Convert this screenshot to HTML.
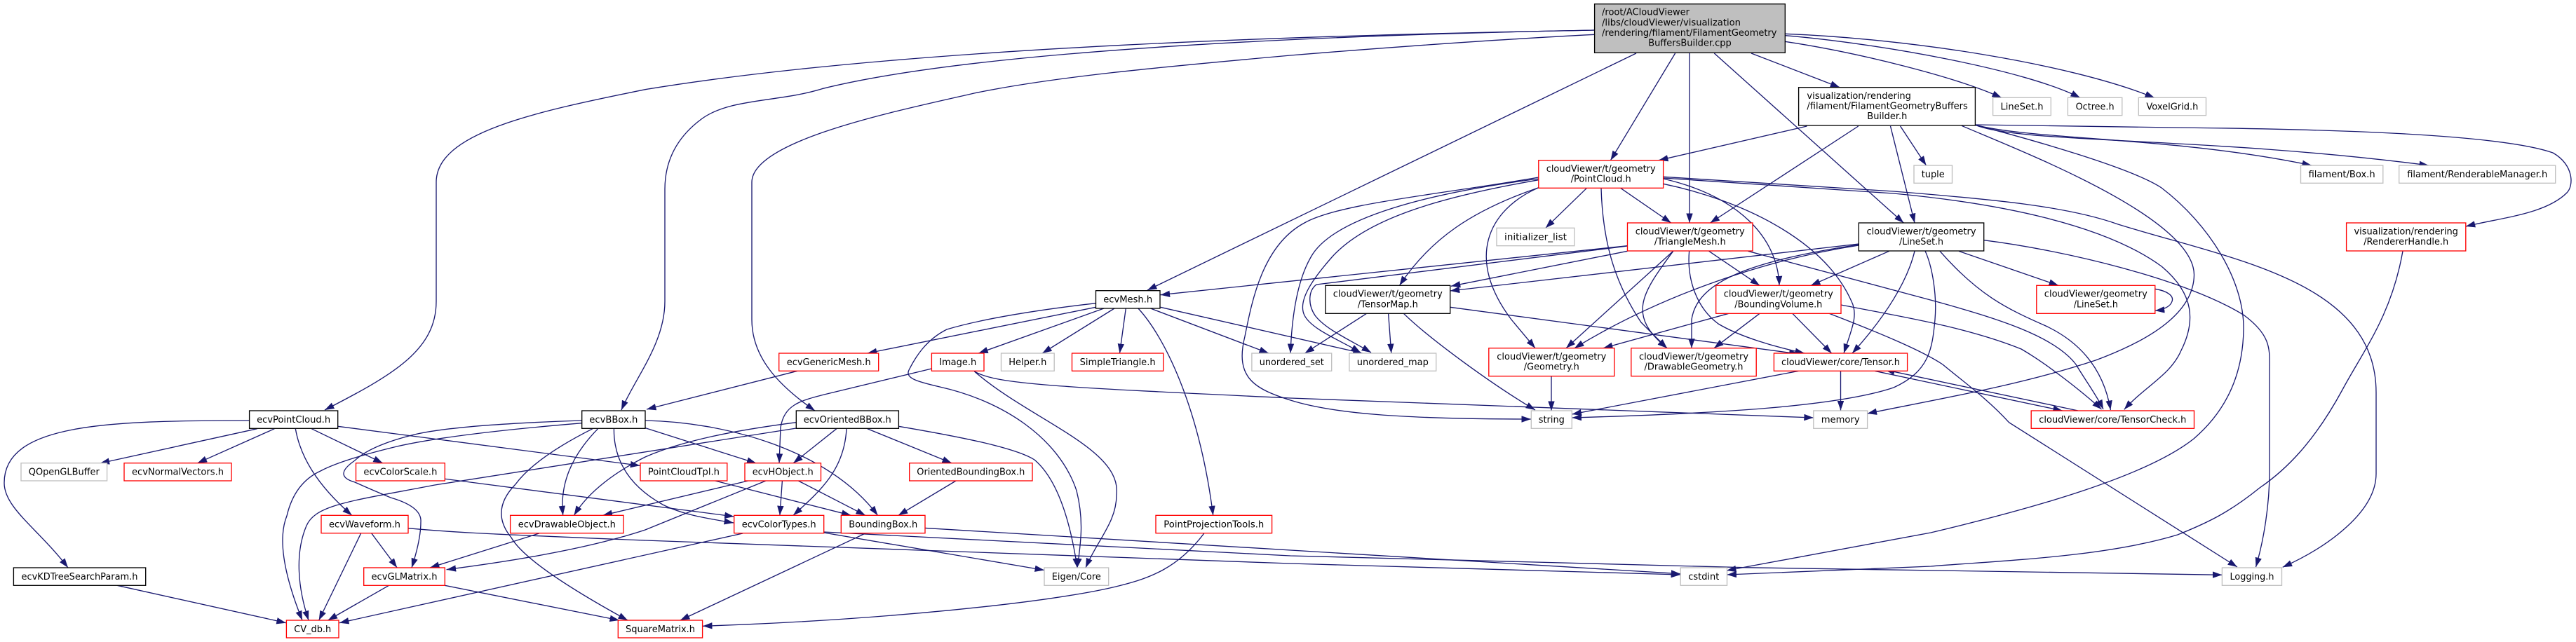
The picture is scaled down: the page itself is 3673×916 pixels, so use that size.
<!DOCTYPE html>
<html><head><meta charset="utf-8"><style>
html,body{margin:0;padding:0;background:#fff}
svg{display:block}
text{font-family:"DejaVu Sans","Liberation Sans",sans-serif;font-size:13.4px;fill:#000}
.e path{fill:none;stroke:#191970;stroke-width:1.33;marker-end:url(#a)}
.n rect{stroke-width:1.33;fill:#fff}
.k rect{stroke:#000}.r rect{stroke:#f00}.g rect{stroke:#bfbfbf}
.c{text-anchor:middle}
</style></head><body>
<svg xmlns="http://www.w3.org/2000/svg" width="3673" height="916" viewBox="0 0 3673 916">
<defs><marker id="a" markerUnits="userSpaceOnUse" markerWidth="14" markerHeight="10" refX="13.5" refY="4.7" orient="auto"><path d="M0 0L13.5 4.7L0 9.4z" fill="#191970"/></marker></defs>
<rect width="3673" height="916" fill="#fff"/>
<g class="e">
<!-- root -->
<path d="M2273.6 43C1900 50 1300 65 920 127.7C760 160 622 190 622 260L622 430C622 500 560 535 463 585"/>
<path d="M2273.6 43C1900 50 1400 70 1172 126.7C1110 146 1040 140 1000 170C965 196 948 230 948 270L948 430C948 490 905 540 886 585"/>
<path d="M2273.6 49.3C2100 58 1900 74 1840 79C1650 96 1500 110 1389 133C1280 158 1072 200 1072 260L1072 456C1072 510 1110 550 1162 586"/>
<path d="M2333 76L1636 414"/>
<path d="M2388.6 76L2296.5 228.7"/>
<path d="M2409 76L2409 318"/>
<path d="M2444.3 76L2714.3 318"/>
<path d="M2497 76L2623.3 124.7"/>
<path d="M2545.3 59.3C2650 75 2790 110 2854 139.5"/>
<path d="M2545.3 50.7C2680 62 2890 100 2966 139.5"/>
<path d="M2545.3 48.3C2720 55 2950 90 3072 139.5"/>
<!-- builder -->
<path d="M2576.4 180L2365 228.7"/>
<path d="M2649.7 180L2438.5 318"/>
<path d="M2695.5 180L2730 318"/>
<path d="M2709.6 180L2746.5 236"/>
<path d="M2816.4 178.3C2900 200 3100 195 3296 236"/>
<path d="M2816.4 178.3C2880 205 3150 195 3463 236"/>
<path d="M2816.4 178L3100 182C3300 184 3560 190 3640 218C3670 235 3670 265 3660 275C3630 305 3570 310 3515.8 323"/>
<path d="M2797 179.3C2880 215 3128 310 3128.5 392C3128 440 3080 480 2988 514C2880 550 2760 570 2662.6 590"/>
<path d="M2816.4 178.3C2900 200 3040 240 3082 268C3150 320 3200 400 3199 470C3198 540 3170 590 3128 626C3060 680 2900 725 2753 760L2462 814"/>
<!-- t/PointCloud -->
<path d="M2193.8 253C2050 278 1910 290 1860 318C1800 350 1785 430 1775 480C1760 540 1790 555 1840 571C1900 590 2000 598 2183 598"/>
<path d="M2193.8 255C2040 275 1900 310 1869 367C1850 400 1842 450 1840 504"/>
<path d="M2193.8 256.7C2060 280 1950 310 1899 367C1870 400 1850 430 1860 450C1870 470 1910 485 1940 503"/>
<path d="M2193.8 267.7C2100 300 2040 340 1995.5 407.3"/>
<path d="M2193.8 267.7C2120 300 2090 370 2155 456L2189 496.7"/>
<path d="M2262.5 268.3L2203.8 325.3"/>
<path d="M2310.6 268.3L2382.7 318"/>
<path d="M2283 268.3C2285 340 2300 400 2340 460C2350 470 2365 485 2377 496.7"/>
<path d="M2371.6 255C2480 280 2535 340 2537 407.3"/>
<path d="M2371.6 262.3C2480 285 2600 340 2640 430C2650 450 2640 470 2629 504"/>
<path d="M2371.6 252.3L2700 273C2850 285 2950 295 3020 320C3180 370 3388 400 3388 560L3388 676C3388 730 3320 780 3254.7 809.3"/>
<path d="M2371.6 254L2700 276C2850 290 3000 320 3082 380C3130 420 3130 460 3110 500C3095 535 3060 550 3028.8 584.3"/>
<!-- t/TriangleMesh -->
<path d="M2320.5 350.7L1654.6 420.7"/>
<path d="M2320.5 351L1877 406C1865 415 1865 435 1875 450C1890 470 1925 485 1955 503"/>
<path d="M2320.5 358.3L2068.8 408.3"/>
<path d="M2385.7 358.3L2233 496.7"/>
<path d="M2385.7 358.3C2340 420 2320 450 2377 496.7"/>
<path d="M2408.6 358.3C2405 400 2420 440 2450 462C2480 480 2530 495 2573 504"/>
<path d="M2436.7 358.3L2509 407.3"/>
<path d="M2492.5 358.3L2760 430C2850 455 2930 480 2960 520C2975 545 2990 565 2999 584"/>
<!-- t/LineSet -->
<path d="M2650.3 348L2067.7 415"/>
<path d="M2650.3 349C2500 372 2420 400 2412 456L2412 496.7"/>
<path d="M2650.3 350C2520 370 2370 420 2245 496.7"/>
<path d="M2693.7 358.3L2582 407.3"/>
<path d="M2730 358.3C2720 400 2690 450 2641 504"/>
<path d="M2793 358.3L2935 407.3"/>
<path d="M2766 358.3C2820 420 2860 440 2917 465C2970 490 3000 530 3009.4 585"/>
<path d="M2745 358C2755 380 2762 420 2759 456C2755 500 2750 530 2700 553C2620 580 2450 590 2241.5 596"/>
<path d="M2828.7 342.7C2950 358 3120 400 3200 450C3240 480 3236 500 3236 530L3236 673C3236 720 3228 770 3216.5 809"/>
<path d="M3072.8 412.3C3090 415 3100 422 3097 430C3095 437 3085 442 3072.8 443.3"/>
<!-- TensorMap -->
<path d="M1948.5 447.3L1860.5 504"/>
<path d="M1979.6 447.3L1983.8 504"/>
<path d="M2001.4 447.3C2040 485 2130 550 2189 585"/>
<path d="M2067.7 438.3L2564.6 505"/>
<!-- BoundingVolume -->
<path d="M2464.8 447.3L2286 496.7"/>
<path d="M2509 447.3L2444 496.7"/>
<path d="M2555.8 447.3L2611.6 504"/>
<path d="M2625 435C2700 450 2800 465 2882 498C2920 520 2970 560 2996.5 584"/>
<path d="M2607.5 447C2680 475 2740 500 2770 520C2800 545 2835 570 2864.5 602.7L3190 809"/>
<!-- Tensor etc -->
<path d="M2564.6 529.3L2241.5 591"/>
<path d="M2624.5 529.3L2624.5 585.5"/>
<path d="M2673 529.3L2940.8 586"/>
<path d="M2963 586L2688 527.7"/>
<path d="M2212 537L2212 586"/>
<path d="M3426 358.3C3410 450 3370 500 3340 556C3300 630 3260 670 3222 696C3180 730 3150 745 3105 763C3000 795 2850 800 2753 808L2462.5 820"/>
<!-- ecvMesh -->
<path d="M1562.5 438.3L1236.8 504"/>
<path d="M1562.5 432.7C1480 442 1400 455 1350 470C1320 485 1305 510 1296 528C1290 540 1310 545 1340 552C1430 572 1510 625 1535 700C1545 740 1542 770 1536 810"/>
<path d="M1574 440L1395.3 504"/>
<path d="M1589 440L1486.2 504"/>
<path d="M1605.3 440L1596.5 504"/>
<path d="M1622.9 440C1660 480 1710 580 1729.7 735.3"/>
<path d="M1640.5 440L1809 504"/>
<path d="M1654.6 438.3L1942.7 504"/>
<!-- Image -->
<path d="M1328.4 526L1175 563C1140 572 1118 578 1113 610L1111 660.7"/>
<path d="M1389.4 530C1420 548 1500 552 1840 568L2585.8 596"/>
<path d="M1389.4 530C1470 600 1600 640 1592 706C1592 745 1565 770 1548 810"/>
<path d="M1137 529.3L922 584"/>
<!-- ecvOrientedBBox -->
<path d="M1135.3 602.7C1040 615 970 630 920 652C880 672 840 700 818.5 735.3"/>
<path d="M1135.3 611L620 692C500 715 450 720 437 750C420 790 425 840 440 885"/>
<path d="M1192.8 611.7L1131.2 660.7"/>
<path d="M1207 611.7C1204 670 1170 700 1131 735.3"/>
<path d="M1236.8 611.7L1357 660.7"/>
<path d="M1281.4 608.3C1380 625 1450 640 1475 656C1515 690 1530 770 1536 810"/>
<!-- ecvBBox -->
<path d="M829.7 603.7Q645 619 566 637Q487 656 457 672Q420 689 409 736Q390 783 431 885"/>
<path d="M829.7 600Q645 606 587 621Q528 636 506 657Q474 679 506 688Q528 698 557 710Q602 723 600 745Q600 770 587 810"/>
<path d="M845 611.7Q763 653 735 691Q698 729 729 767Q751 806 895 885"/>
<path d="M852.6 611.7C815 650 798 690 802.7 735.3"/>
<path d="M875.4 611.7C875 660 900 695 945 720C975 735 1010 740 1046 746"/>
<path d="M915 609L1078.4 661"/>
<path d="M920 600C1030 602 1180 640 1251.5 735.3"/>
<!-- ecvPointCloud -->
<path d="M355.6 600C150 600 6 605 6 689C6 725 55 755 97 810"/>
<path d="M366.7 611.7L142.6 661"/>
<path d="M391.4 611.7L281.6 660.7"/>
<path d="M444.2 611.7L545.7 660.7"/>
<path d="M421.3 611.7C428 650 450 690 501.7 735.3"/>
<path d="M481.7 608.3L912.4 664.3"/>
<path d="M634.3 683.3L1046.7 737"/>
<!-- lower -->
<path d="M529.8 761L566.2 810"/>
<path d="M514.6 761L454.7 885"/>
<path d="M582 753.7C650 760 700 762 920 771L1840 804L2396.2 820"/>
<path d="M768.6 761L613 810"/>
<path d="M554.5 835.3L467.6 885"/>
<path d="M634.3 835.3L883 885"/>
<path d="M167.2 835.3L407.8 888.7"/>
<path d="M1066.7 686L859.6 735.3"/>
<path d="M1092 686L920 756Q821 789 636.6 812.7"/>
<path d="M1115.4 686L1111.9 735.3"/>
<path d="M1138.3 686L1233.9 735.3"/>
<path d="M1019.7 686L1213.4 735.3"/>
<path d="M1363 686L1280.9 735.3"/>
<path d="M1059 761L484 888.7"/>
<path d="M1174.7 760L1489 813.5"/>
<path d="M1174.7 759L1840 793L2485 809.7L3168.4 820.3"/>
<path d="M1233.9 761L969.9 885"/>
<path d="M1319 753.4L2396.2 818.7"/>
<path d="M1716.8 761C1680 810 1640 825 1595 836C1500 860 1250 885 1002 893.3"/>
</g>

<!-- nodes -->
<g class="n">
<g class="k"><rect x="2273.6" y="5.7" width="271.7" height="69.6" style="fill:#bfbfbf"/>
<text x="2284" y="21.7" textLength="125" lengthAdjust="spacingAndGlyphs">/root/ACloudViewer</text>
<text x="2284" y="36.7" textLength="198" lengthAdjust="spacingAndGlyphs">/libs/cloudViewer/visualization</text>
<text x="2284" y="51" textLength="249.4" lengthAdjust="spacingAndGlyphs">/rendering/filament/FilamentGeometry</text>
<text x="2409.5" y="65.7" class="c" textLength="118.5" lengthAdjust="spacingAndGlyphs">BuffersBuilder.cpp</text></g>

<g class="k"><rect x="2564.6" y="124.7" width="251.8" height="54.3"/>
<text x="2576.4" y="141" textLength="148.5" lengthAdjust="spacingAndGlyphs">visualization/rendering</text>
<text x="2576.4" y="155.3" textLength="229.4" lengthAdjust="spacingAndGlyphs">/filament/FilamentGeometryBuffers</text>
<text x="2690.8" y="170" class="c" textLength="57" lengthAdjust="spacingAndGlyphs">Builder.h</text></g>

<g class="r"><rect x="2193.8" y="228.7" width="177.8" height="39.6"/>
<text x="2282.7" y="245" class="c" textLength="156" lengthAdjust="spacingAndGlyphs">cloudViewer/t/geometry</text>
<text x="2282.7" y="259.5" class="c" textLength="86" lengthAdjust="spacingAndGlyphs">/PointCloud.h</text></g>

<g class="r"><rect x="2320.5" y="318" width="178.5" height="40"/>
<text x="2409.7" y="334.3" class="c" textLength="156" lengthAdjust="spacingAndGlyphs">cloudViewer/t/geometry</text>
<text x="2409.7" y="349" class="c" textLength="102" lengthAdjust="spacingAndGlyphs">/TriangleMesh.h</text></g>

<g class="k"><rect x="2650.3" y="318" width="178.4" height="40"/>
<text x="2739.5" y="334.3" class="c" textLength="156" lengthAdjust="spacingAndGlyphs">cloudViewer/t/geometry</text>
<text x="2739.5" y="349" class="c" textLength="63" lengthAdjust="spacingAndGlyphs">/LineSet.h</text></g>

<g class="k"><rect x="1889.9" y="407.3" width="177.8" height="40"/>
<text x="1978.8" y="423.6" class="c" textLength="156" lengthAdjust="spacingAndGlyphs">cloudViewer/t/geometry</text>
<text x="1978.8" y="438.3" class="c" textLength="86" lengthAdjust="spacingAndGlyphs">/TensorMap.h</text></g>

<g class="r"><rect x="2446.7" y="407.3" width="178.3" height="40"/>
<text x="2535.8" y="423.6" class="c" textLength="156" lengthAdjust="spacingAndGlyphs">cloudViewer/t/geometry</text>
<text x="2535.8" y="438.3" class="c" textLength="125" lengthAdjust="spacingAndGlyphs">/BoundingVolume.h</text></g>

<g class="r"><rect x="2122.8" y="496.7" width="179" height="40"/>
<text x="2212.3" y="513" class="c" textLength="156" lengthAdjust="spacingAndGlyphs">cloudViewer/t/geometry</text>
<text x="2212.3" y="527.5" class="c" textLength="79" lengthAdjust="spacingAndGlyphs">/Geometry.h</text></g>

<g class="r"><rect x="2325.8" y="496.7" width="178.4" height="40"/>
<text x="2415" y="513" class="c" textLength="156" lengthAdjust="spacingAndGlyphs">cloudViewer/t/geometry</text>
<text x="2415" y="527.5" class="c" textLength="141" lengthAdjust="spacingAndGlyphs">/DrawableGeometry.h</text></g>

<g class="r"><rect x="3345.6" y="318" width="170.2" height="40"/>
<text x="3430.7" y="334.3" class="c" textLength="148.5" lengthAdjust="spacingAndGlyphs">visualization/rendering</text>
<text x="3430.7" y="349" class="c" textLength="121" lengthAdjust="spacingAndGlyphs">/RendererHandle.h</text></g>

<g class="r"><rect x="2903.8" y="407.3" width="169" height="40"/>
<text x="2988.3" y="423.6" class="c" textLength="147" lengthAdjust="spacingAndGlyphs">cloudViewer/geometry</text>
<text x="2988.3" y="438.3" class="c" textLength="63" lengthAdjust="spacingAndGlyphs">/LineSet.h</text></g>

<g class="g">
<rect x="2134" y="325.3" width="110.9" height="25.4"/><text x="2189.5" y="342.3" class="c" textLength="89" lengthAdjust="spacingAndGlyphs">initializer_list</text>
<rect x="2729" y="236" width="54.5" height="25.3"/><text x="2756.2" y="253" class="c" textLength="33" lengthAdjust="spacingAndGlyphs">tuple</text>
<rect x="2841.6" y="139.3" width="82.7" height="25.4"/><text x="2883" y="156.3" class="c" textLength="61" lengthAdjust="spacingAndGlyphs">LineSet.h</text>
<rect x="2948.4" y="139.3" width="77.4" height="25.4"/><text x="2987.1" y="156.3" class="c" textLength="55" lengthAdjust="spacingAndGlyphs">Octree.h</text>
<rect x="3049.3" y="139.3" width="96.2" height="25.4"/><text x="3097.4" y="156.3" class="c" textLength="74" lengthAdjust="spacingAndGlyphs">VoxelGrid.h</text>
<rect x="3280.5" y="236" width="117.3" height="25.3"/><text x="3339.1" y="253" class="c" textLength="95" lengthAdjust="spacingAndGlyphs">filament/Box.h</text>
<rect x="3420.7" y="236" width="223" height="25.3"/><text x="3532.2" y="253" class="c" textLength="200" lengthAdjust="spacingAndGlyphs">filament/RenderableManager.h</text>
<rect x="1784.9" y="504" width="113.8" height="25.3"/><text x="1841.8" y="521" class="c" textLength="92" lengthAdjust="spacingAndGlyphs">unordered_set</text>
<rect x="1923.9" y="504" width="123.8" height="25.3"/><text x="1985.8" y="521" class="c" textLength="102" lengthAdjust="spacingAndGlyphs">unordered_map</text>
<rect x="1427.5" y="504" width="75.7" height="25.3"/><text x="1465.3" y="521" class="c" textLength="54" lengthAdjust="spacingAndGlyphs">Helper.h</text>
<rect x="2183.3" y="586" width="58" height="25.3"/><text x="2212.3" y="603" class="c" textLength="37" lengthAdjust="spacingAndGlyphs">string</text>
<rect x="2585.8" y="586" width="76.8" height="25.3"/><text x="2624.2" y="603" class="c" textLength="55" lengthAdjust="spacingAndGlyphs">memory</text>
<rect x="30" y="660.7" width="122.6" height="25.3"/><text x="91.3" y="677.7" class="c" textLength="101" lengthAdjust="spacingAndGlyphs">QOpenGLBuffer</text>
<rect x="1489" y="810" width="91.7" height="25.3"/><text x="1534.8" y="827" class="c" textLength="70" lengthAdjust="spacingAndGlyphs">Eigen/Core</text>
<rect x="2396.2" y="810" width="66.3" height="25.3"/><text x="2429.3" y="827" class="c" textLength="44" lengthAdjust="spacingAndGlyphs">cstdint</text>
<rect x="3168.4" y="810" width="85.1" height="25.3"/><text x="3211" y="827" class="c" textLength="63" lengthAdjust="spacingAndGlyphs">Logging.h</text>
</g>

<g class="k">
<rect x="1562.5" y="414.7" width="91.5" height="25.3"/><text x="1608.2" y="431.7" class="c" textLength="70" lengthAdjust="spacingAndGlyphs">ecvMesh.h</text>
<rect x="355.6" y="586" width="126.1" height="25.3"/><text x="418.6" y="603" class="c" textLength="105" lengthAdjust="spacingAndGlyphs">ecvPointCloud.h</text>
<rect x="829.7" y="586" width="90.3" height="25.3"/><text x="874.8" y="603" class="c" textLength="69" lengthAdjust="spacingAndGlyphs">ecvBBox.h</text>
<rect x="1135.3" y="586" width="146.1" height="25.3"/><text x="1208.3" y="603" class="c" textLength="125" lengthAdjust="spacingAndGlyphs">ecvOrientedBBox.h</text>
<rect x="19.4" y="810" width="188.3" height="25.3"/><text x="113.5" y="827" class="c" textLength="166" lengthAdjust="spacingAndGlyphs">ecvKDTreeSearchParam.h</text>
</g>

<g class="r">
<rect x="1110.7" y="504" width="142" height="25.3"/><text x="1181.7" y="521" class="c" textLength="120" lengthAdjust="spacingAndGlyphs">ecvGenericMesh.h</text>
<rect x="1328.4" y="504" width="74.6" height="25.3"/><text x="1365.7" y="521" class="c" textLength="53" lengthAdjust="spacingAndGlyphs">Image.h</text>
<rect x="1528.5" y="504" width="130.2" height="25.3"/><text x="1593.6" y="521" class="c" textLength="108" lengthAdjust="spacingAndGlyphs">SimpleTriangle.h</text>
<rect x="2529.4" y="504" width="190.2" height="25.3"/><text x="2624.5" y="521" class="c" textLength="169" lengthAdjust="spacingAndGlyphs">cloudViewer/core/Tensor.h</text>
<rect x="2896.2" y="586" width="232.3" height="25.3"/><text x="3012.3" y="603" class="c" textLength="210" lengthAdjust="spacingAndGlyphs">cloudViewer/core/TensorCheck.h</text>
<rect x="177" y="660.7" width="153" height="25.3"/><text x="253.5" y="677.7" class="c" textLength="131" lengthAdjust="spacingAndGlyphs">ecvNormalVectors.h</text>
<rect x="507.5" y="660.7" width="126.8" height="25.3"/><text x="570.9" y="677.7" class="c" textLength="105" lengthAdjust="spacingAndGlyphs">ecvColorScale.h</text>
<rect x="913" y="660.7" width="123.8" height="25.3"/><text x="974.9" y="677.7" class="c" textLength="102" lengthAdjust="spacingAndGlyphs">PointCloudTpl.h</text>
<rect x="1062" y="660.7" width="108.5" height="25.3"/><text x="1116.2" y="677.7" class="c" textLength="87" lengthAdjust="spacingAndGlyphs">ecvHObject.h</text>
<rect x="1296.7" y="660.7" width="175.3" height="25.3"/><text x="1384.3" y="677.7" class="c" textLength="154" lengthAdjust="spacingAndGlyphs">OrientedBoundingBox.h</text>
<rect x="458" y="735.3" width="124" height="25.4"/><text x="520" y="752.3" class="c" textLength="102" lengthAdjust="spacingAndGlyphs">ecvWaveform.h</text>
<rect x="727.6" y="735.3" width="161.4" height="25.4"/><text x="808.3" y="752.3" class="c" textLength="139" lengthAdjust="spacingAndGlyphs">ecvDrawableObject.h</text>
<rect x="1046.7" y="735.3" width="128" height="25.4"/><text x="1110.7" y="752.3" class="c" textLength="106" lengthAdjust="spacingAndGlyphs">ecvColorTypes.h</text>
<rect x="1199.3" y="735.3" width="119.7" height="25.4"/><text x="1259.2" y="752.3" class="c" textLength="98" lengthAdjust="spacingAndGlyphs">BoundingBox.h</text>
<rect x="1648" y="735.3" width="165.6" height="25.4"/><text x="1730.8" y="752.3" class="c" textLength="143" lengthAdjust="spacingAndGlyphs">PointProjectionTools.h</text>
<rect x="518.7" y="810" width="115.6" height="25.3"/><text x="576.5" y="827" class="c" textLength="94" lengthAdjust="spacingAndGlyphs">ecvGLMatrix.h</text>
<rect x="408.4" y="885" width="74.6" height="25"/><text x="445.7" y="902" class="c" textLength="53" lengthAdjust="spacingAndGlyphs">CV_db.h</text>
<rect x="881.3" y="885" width="120.3" height="25"/><text x="941.5" y="902" class="c" textLength="99" lengthAdjust="spacingAndGlyphs">SquareMatrix.h</text>
</g>
</g>
</svg>
</body></html>
